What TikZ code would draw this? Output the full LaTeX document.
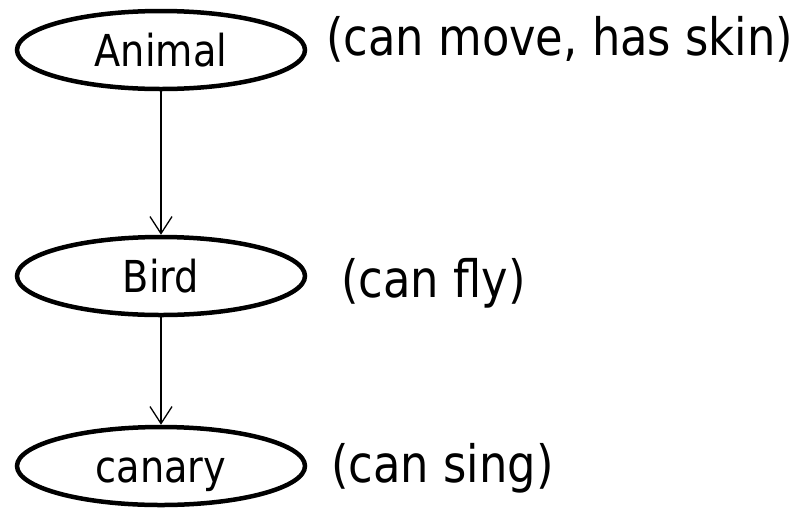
\documentclass[tikz,border=0pt]{standalone}
\usepackage{fontspec}
\setmainfont{DejaVu Sans}[FakeStretch=0.87]
\usetikzlibrary{shapes.geometric,arrows.meta}
\tikzset{
  concept/.style={draw, ellipse, line width=4.5pt, inner sep=0pt,
    minimum width=288pt, minimum height=78pt,
    font=\fontsize{44pt}{48pt}\selectfont, text height=34pt, text depth=2pt},
  prop/.style={anchor=base west, inner sep=0pt, font=\fontsize{51.5pt}{56pt}\selectfont},
  isa/.style={line width=1.3pt, -{Straight Barb[length=17pt,width=22pt,line width=1.3pt]}}
}
\begin{document}
\begin{tikzpicture}[x=1pt,y=-1pt]
\useasboundingbox (0,0) rectangle (797,507);
\node[concept] (animal) at (161,50) {Animal};
\node[concept] (bird) at (161,276) {Bird};
\node[concept] (canary) at (161,466) {canary};
\node[prop] (panimal) at (326,55) {(can move, has skin)};
\node[prop] (pbird) at (341,297) {(can fly)};
\node[prop] (pcanary) at (331,482) {(can sing)};
\draw[isa] (animal) -- (bird);
\draw[isa] (bird) -- (canary);
\end{tikzpicture}
\end{document}
